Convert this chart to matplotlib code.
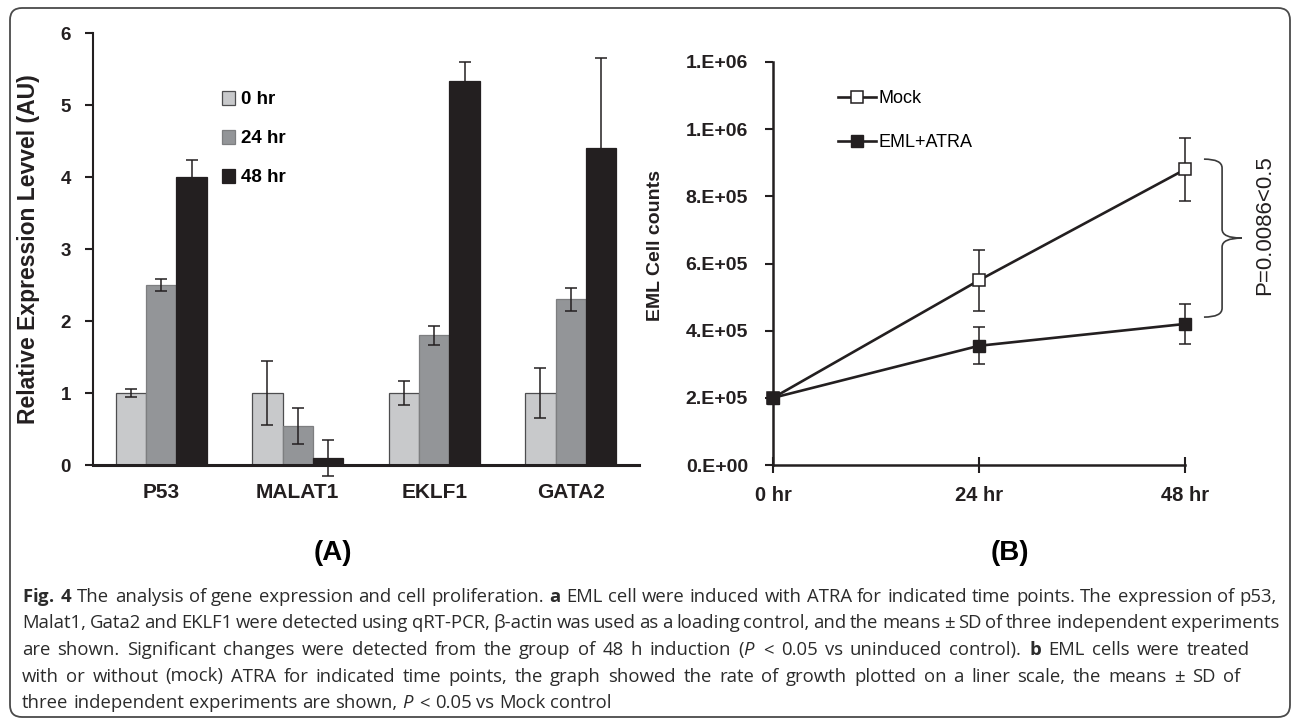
import numpy as np
import matplotlib
matplotlib.use("Agg")
import matplotlib.pyplot as plt
from matplotlib.patches import FancyBboxPatch, PathPatch
from matplotlib.path import Path
from matplotlib.transforms import IdentityTransform

# ---- datos del panel A (expresión relativa) ----
genes = ["P53", "MALAT1", "EKLF1", "GATA2"]
series_a = ["0 hr", "24 hr", "48 hr"]
expr_0h = [1.0, 1.0, 1.0, 1.0]
expr_24h = [2.5, 0.54, 1.8, 2.3]
expr_48h = [4.0, 0.10, 5.33, 4.4]
err_0h = [0.05, 0.45, 0.17, 0.35]
err_24h = [0.08, 0.25, 0.13, 0.16]
err_48h = [0.23, 0.25, 0.27, 1.25]

# ---- datos del panel B (conteo celular) ----
time_labels = ["0 hr", "24 hr", "48 hr"]
mock = [2.0e5, 5.5e5, 8.8e5]
mock_err = [0, 0.9e5, 0.94e5]
atra = [2.0e5, 3.55e5, 4.2e5]
atra_err = [0, 0.55e5, 0.6e5]
ytick_vals = [0, 2e5, 4e5, 6e5, 8e5, 1.0e6, 1.2e6]
ytick_labels = ["0.E+00", "2.E+05", "4.E+05", "6.E+05", "8.E+05", "1.E+06", "1.E+06"]

caption = [
    r"$\mathbf{Fig.}$ $\mathbf{4}$ The analysis of gene expression and cell proliferation. $\mathbf{a}$ EML cell were induced with ATRA for indicated time points. The expression of p53,",
    "Malat1, Gata2 and EKLF1 were detected using qRT-PCR, β-actin was used as a loading control, and the means ± SD of three independent experiments",
    r"are shown. Significant changes were detected from the group of 48 h induction ($\mathit{P}$ < 0.05 vs uninduced control). $\mathbf{b}$ EML cells were treated",
    "with or without (mock) ATRA for indicated time points, the graph showed the rate of growth plotted on a liner scale, the means ± SD of",
    r"three independent experiments are shown, $\mathit{P}$ < 0.05 vs Mock control",
]
# borde derecho de cada línea en el original (None = sin justificar)
caption_right = [1277, 1279, 1250, 1240, None]

plt.rcParams["font.family"] = ["Liberation Sans", "DejaVu Sans"]
plt.rcParams["mathtext.fontset"] = "custom"
plt.rcParams["mathtext.rm"] = "Open Sans"
plt.rcParams["mathtext.bf"] = "Open Sans:bold"
plt.rcParams["mathtext.it"] = "Open Sans:italic"

W, H = 1293, 721
fig = plt.figure(figsize=(W / 100, H / 100), dpi=100)
dark = "#231f20"

# marco redondeado
frame = FancyBboxPatch((10, 4), 1280, 709, boxstyle="round,pad=0,rounding_size=12",
                       transform=IdentityTransform(), facecolor="none",
                       edgecolor="#4a4a4a", linewidth=1.3)
fig.add_artist(frame)

# ================= Panel A =================
ax1 = fig.add_axes([93 / W, 1 - 465 / H, 546 / W, 432 / H])
x = np.arange(len(genes))
w = 0.223
colores = ["#c8c9cb", "#939598", dark]
bordes = ["#4d4d4f", "#7d7e80", dark]
for i, (vals, errs) in enumerate([(expr_0h, err_0h), (expr_24h, err_24h), (expr_48h, err_48h)]):
    pos = x + (i - 1) * w
    ax1.bar(pos, vals, width=w, color=colores[i], edgecolor=bordes[i], linewidth=0.9,
            label=series_a[i], zorder=2)
    ax1.errorbar(pos, vals, yerr=errs, fmt="none", ecolor=dark, elinewidth=1.1,
                 capsize=4, capthick=1.1, zorder=3, clip_on=False)

ax1.set_xlim(-0.5, 3.5)
ax1.set_ylim(0, 6)
ax1.set_yticks(range(0, 7))
ax1.set_xticks(x)
ax1.set_xticklabels(genes, fontsize=15, fontweight="bold", color=dark)
ax1.tick_params(axis="x", length=0, pad=13)
ax1.tick_params(axis="y", length=6, width=1.5, pad=10, labelsize=13.5, colors=dark)
for t in ax1.get_yticklabels():
    t.set_fontweight("bold")
for s in ["top", "right"]:
    ax1.spines[s].set_visible(False)
ax1.spines["left"].set_linewidth(1.5)
ax1.spines["bottom"].set_linewidth(2.2)
ax1.spines["left"].set_color(dark)
ax1.spines["bottom"].set_color(dark)
ax1.set_ylabel("Relative Expression Levvel (AU)", fontsize=16.5, fontweight="bold", color=dark)
ax1.yaxis.set_label_coords(-0.097, 0.5)
ax1.legend(loc="upper left", bbox_to_anchor=(0.236, 0.866), frameon=False,
           prop={"weight": "bold", "size": 13.5}, handlelength=0.7, handleheight=0.75,
           handletextpad=0.3, labelspacing=1.15, borderpad=0, borderaxespad=0)

# ================= Panel B =================
ax2 = fig.add_axes([773 / W, 1 - 465 / H, 412 / W, 403 / H])
t = np.arange(len(time_labels))
ax2.errorbar(t, mock, yerr=mock_err, fmt="none", ecolor=dark, elinewidth=1.1,
             capsize=4, capthick=1.1, zorder=3, clip_on=False)
ax2.errorbar(t, atra, yerr=atra_err, fmt="none", ecolor=dark, elinewidth=1.1,
             capsize=4, capthick=1.1, zorder=3, clip_on=False)
ax2.plot(t, mock, color=dark, lw=1.9, marker="s", ms=8, mfc="white", mec=dark, mew=1.1,
         label="Mock", zorder=4, clip_on=False)
ax2.plot(t, atra, color=dark, lw=1.9, marker="s", ms=8, mfc=dark, mec=dark,
         label="EML+ATRA", zorder=5, clip_on=False)

ax2.set_xlim(0, 2)
ax2.set_ylim(0, 1.2e6)
ax2.set_yticks(ytick_vals)
ax2.set_yticklabels(ytick_labels)
ax2.set_xticks(t)
ax2.set_xticklabels(time_labels)
for lab in ax2.get_xticklabels() + ax2.get_yticklabels():
    lab.set_fontweight("bold")
ax2.tick_params(axis="x", direction="inout", length=12, width=1.5, pad=9, labelsize=14.5, colors=dark)
ax2.tick_params(axis="y", length=6, width=1.5, pad=12, labelsize=14, colors=dark)
for s in ["top", "right"]:
    ax2.spines[s].set_visible(False)
for s in ["left", "bottom"]:
    ax2.spines[s].set_linewidth(1.8)
    ax2.spines[s].set_color(dark)
ax2.set_ylabel("EML Cell counts", fontsize=14, fontweight="bold", color=dark)
ax2.yaxis.set_label_coords(-0.265, 0.545)
ax2.legend(loc="upper left", bbox_to_anchor=(0.158, 0.93), frameon=False,
           prop={"size": 13}, handlelength=2.1, handletextpad=0.15, labelspacing=1.5,
           borderpad=0, borderaxespad=0)

# llave y valor P
bx0, bx1, bx2 = 1.046, 1.090, 1.138
ytop, ymid, ybot = 0.759, 0.563, 0.367
r = 0.022
verts = [(bx0, ytop), (bx1, ytop), (bx1, ytop - r),
         (bx1, ymid + r),
         (bx1, ymid), (bx2, ymid),
         (bx1, ymid), (bx1, ymid - r),
         (bx1, ybot + r),
         (bx1, ybot), (bx0, ybot)]
codes = [Path.MOVETO, Path.CURVE3, Path.CURVE3, Path.LINETO,
         Path.CURVE3, Path.CURVE3, Path.CURVE3, Path.CURVE3,
         Path.LINETO, Path.CURVE3, Path.CURVE3]
brace = PathPatch(Path(verts, codes), transform=ax2.transAxes, facecolor="none",
                  edgecolor="#3a3a3a", lw=1.2, clip_on=False)
ax2.add_patch(brace)
ax2.text(1.194, 0.596, "P=0.0086<0.5", transform=ax2.transAxes, rotation=90,
         ha="center", va="center", fontsize=16, color=dark)

# etiquetas de panel
fig.text(333 / W, 1 - 553 / H, "(A)", ha="center", va="center", fontsize=20,
         fontweight="bold", color="black")
fig.text(1010 / W, 1 - 553 / H, "(B)", ha="center", va="center", fontsize=20,
         fontweight="bold", color="black")

# pie de figura, justificado palabra por palabra
renderer = fig.canvas.get_renderer()
x0 = 22
for i, line in enumerate(caption):
    y = 1 - (597 + i * 26.5) / H
    words = line.split(" ")
    objs = [fig.text(0, y, wd, ha="left", va="center", fontsize=13.3,
                     family="Open Sans", color="#2b2b2b") for wd in words]
    widths = [o.get_window_extent(renderer).width for o in objs]
    space = objs[0].get_fontsize() * 100 / 72 * 0.26
    if caption_right[i] is not None:
        space = (caption_right[i] - x0 - sum(widths)) / (len(words) - 1)
    xc = x0
    for o, wd in zip(objs, widths):
        o.set_x(xc / W)
        xc += wd + space

fig.savefig("out.png", dpi=100)
